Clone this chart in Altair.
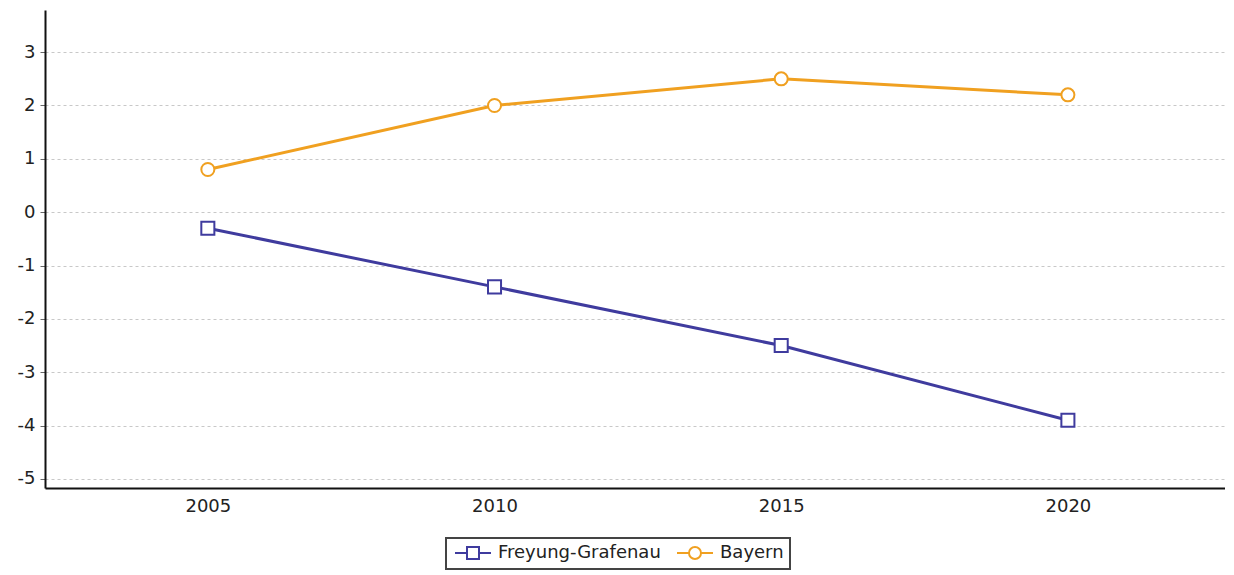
import altair as alt
import pandas as pd

years = [2005, 2010, 2015, 2020]
series_names = ["Freyung-Grafenau", "Bayern"]
freyung = [-0.3, -1.4, -2.5, -3.9]
bayern = [0.8, 2.0, 2.5, 2.2]
y_ticks = [-5, -4, -3, -2, -1, 0, 1, 2, 3]
colors = ["#3f3b9e", "#f0a020"]

rows = []
for name, vals in zip(series_names, [freyung, bayern]):
    for yr, v in zip(years, vals):
        rows.append({"year": yr, "value": v, "series": name, "legend_series": name})
df = pd.DataFrame(rows)

FONT = "DejaVu Sans"

x_enc = alt.X(
    "year:Q",
    scale=alt.Scale(domain=[2002.16, 2022.74], nice=False, zero=False),
    axis=alt.Axis(
        values=years, labelExpr="toString(datum.value)", grid=False, ticks=False, title=None,
        labelFont=FONT, labelFontSize=18, labelColor="#222", labelPadding=9,
        domainColor="#111", domainWidth=2, labelFlush=False,
    ),
)
y_enc = alt.Y(
    "value:Q",
    scale=alt.Scale(domain=[-5.17, 3.79], nice=False, zero=False),
    axis=alt.Axis(
        values=y_ticks, labelExpr="toString(datum.value)", title=None, grid=True,
        gridColor="#c8c8c8", gridDash=[3, 3], gridWidth=1,
        tickSize=5, tickColor="#666", labelPadding=5,
        labelFont=FONT, labelFontSize=18, labelColor="#222",
        domainColor="#111", domainWidth=2,
    ),
)

color_scale = alt.Scale(domain=series_names, range=colors)

base = alt.Chart(df).encode(x=x_enc, y=y_enc)

lines = base.mark_line(strokeWidth=3).encode(
    color=alt.Color("series:N", scale=color_scale, legend=None)
)

points = base.mark_point(filled=False, fill="white", opacity=1, strokeWidth=2, size=170).encode(
    color=alt.Color("series:N", scale=color_scale, legend=None),
    shape=alt.Shape("series:N", scale=alt.Scale(domain=series_names, range=["square", "circle"]), legend=None),
)

sq_path = "M-1,0H1M3,0H5M1,-1H3V1H1Z"
ci_path = "M-1,0H1M3,0H5M1,0A1,1 0 1,1 3,0A1,1 0 1,1 1,0Z"

legend = alt.Legend(
    title=None, orient="none", legendX=401, legendY=528, direction="horizontal",
    labelFont=FONT, labelFontSize=18, labelColor="#222", labelOffset=28, labelLimit=400,
    symbolSize=144, symbolStrokeWidth=2, symbolOpacity=1, symbolFillColor="white",
    strokeColor="#444", padding=6, columnPadding=12,
)

legend_layer = base.mark_point(filled=False, opacity=0, size=144).encode(
    color=alt.Color("legend_series:N", scale=color_scale, legend=legend),
    shape=alt.Shape("legend_series:N", scale=alt.Scale(domain=series_names, range=[sq_path, ci_path]), legend=legend),
)

chart = (
    alt.layer(lines, points, legend_layer)
    .resolve_scale(color="independent", shape="independent")
    .properties(
        width=1180, height=478,
        autosize=alt.AutoSizeParams(type="none"),
        padding={"left": 37, "top": 2, "right": 0, "bottom": 86},
    )
    .configure_view(stroke=None)
    .configure_legend(strokeWidth=2)
)

chart.save("out.html", embed_options={"renderer": "svg", "actions": False})
